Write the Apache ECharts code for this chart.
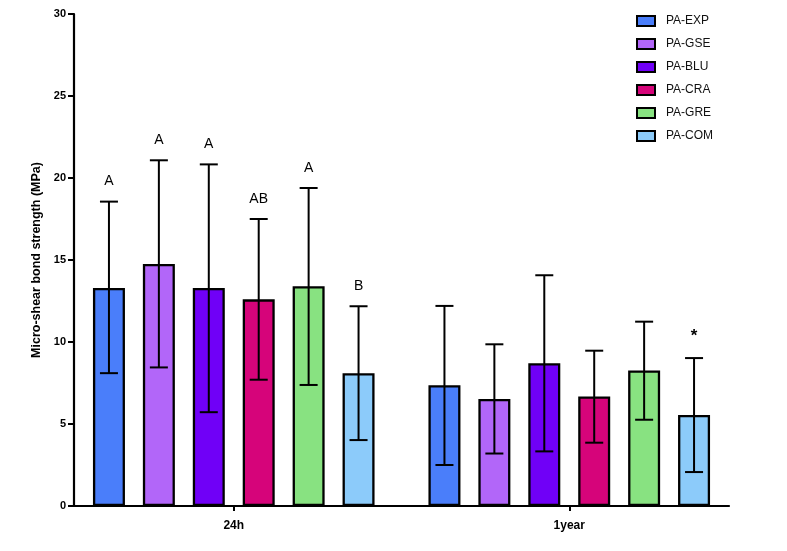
<!DOCTYPE html>
<html>
<head>
<meta charset="utf-8">
<script src="https://cdn.jsdelivr.net/npm/echarts@6/dist/echarts.min.js"></script>
<style>
  html, body { margin: 0; padding: 0; background: #fff; }
  #chart { width: 787px; height: 551px; }
</style>
</head>
<body>
<div id="chart"></div>
<script>
const categories = ['24h', '1year'];
const groups = ['PA-EXP', 'PA-GSE', 'PA-BLU', 'PA-CRA', 'PA-GRE', 'PA-COM'];
const colors = ['#4a7efa', '#b266f9', '#7000f7', '#d6047a', '#88e281', '#8ccbfa'];

// means and error bar ends (mean - SD, mean + SD)
const mean24h = [13.3, 14.76, 13.3, 12.6, 13.4, 8.1];
const low24h = [8.1, 8.45, 5.72, 7.7, 7.38, 4.02];
const high24h = [18.56, 21.08, 20.83, 17.5, 19.39, 12.18];
const mean1y = [7.36, 6.52, 8.7, 6.68, 8.26, 5.55];
const low1y = [2.5, 3.2, 3.33, 3.86, 5.26, 2.07];
const high1y = [12.2, 9.86, 14.07, 9.47, 11.24, 9.02];
const letters24h = ['A', 'A', 'A', 'AB', 'A', 'B'];
const letters1y = ['', '', '', '', '', '*'];

const FONT = '"Liberation Sans", Arial, Helvetica, sans-serif';
const BAR_W = 32;
const BAR_GAP = 0.56;
const STEP = BAR_W * (1 + BAR_GAP);
const CAP = 9;

const chartDom = document.getElementById('chart');
const myChart = echarts.init(chartDom);

// one custom item per bar: [category, member, low, high, letter]
const errData = [];
groups.forEach((g, i) => {
    errData.push([0, i, low24h[i], high24h[i], letters24h[i]]);
    errData.push([1, i, low1y[i], high1y[i], letters1y[i]]);
});

const barSeries = groups.map((g, i) => ({
    name: g,
    type: 'bar',
    xAxisIndex: 1,
    yAxisIndex: 1,
    barWidth: BAR_W,
    barGap: (BAR_GAP * 100) + '%',
    itemStyle: {
        color: colors[i],
        borderColor: '#000',
        borderWidth: 2.3
    },
    data: [mean24h[i], mean1y[i]]
}));

myChart.setOption({
    animation: false,
    textStyle: { fontFamily: FONT },
    legend: {
        data: groups.map(g => ({ name: g, icon: 'rect' })),
        orient: 'vertical',
        left: 631,
        top: 10,
        itemWidth: 18,
        itemHeight: 10,
        itemGap: 11,
        itemStyle: { borderColor: '#000', borderWidth: 2 },
        textStyle: { fontSize: 12, color: '#111', fontFamily: FONT, padding: [0, 0, 0, 6] }
    },
    grid: [
        { left: 74, right: 58, top: 14, bottom: 45 },
        { left: 66, right: 50, top: 14, bottom: 45 }
    ],
    xAxis: [{
        gridIndex: 0,
        type: 'category',
        data: categories,
        axisLine: { lineStyle: { color: '#000', width: 2.2 } },
        axisTick: { show: false },
        axisLabel: { show: false }
    }, {
        gridIndex: 1,
        type: 'category',
        data: categories,
        axisLine: { show: false },
        axisTick: { show: true, alignWithLabel: true, length: 5, lineStyle: { color: '#000', width: 2 } },
        axisLabel: { margin: 14, fontSize: 12, fontWeight: 'bold', color: '#000', fontFamily: FONT }
    }],
    yAxis: [{
        gridIndex: 0,
        type: 'value',
        min: 0,
        max: 30,
        interval: 5,
        name: 'Micro-shear bond strength (MPa)',
        nameLocation: 'middle',
        nameGap: 30,
        nameTextStyle: { fontSize: 12.5, fontWeight: 'bold', color: '#000', fontFamily: FONT },
        axisLine: { show: true, lineStyle: { color: '#000', width: 2.2 } },
        axisTick: { show: true, length: 6, lineStyle: { color: '#000', width: 2 } },
        axisLabel: { margin: 8, fontSize: 11, fontWeight: 'bold', color: '#000', fontFamily: FONT },
        splitLine: { show: false }
    }, {
        gridIndex: 1,
        type: 'value',
        min: 0,
        max: 30,
        show: false
    }],
    series: barSeries.concat([{
        type: 'custom',
        xAxisIndex: 1,
        yAxisIndex: 1,
        z: 10,
        silent: true,
        data: errData,
        renderItem: function (params, api) {
            const base = api.coord([api.value(0), 0]);
            const x = base[0] + (api.value(1) - 2.5) * STEP;
            const yLow = api.coord([api.value(0), api.value(2)])[1];
            const yHigh = api.coord([api.value(0), api.value(3)])[1];
            const style = { stroke: '#000', lineWidth: 2 };
            const children = [
                { type: 'line', shape: { x1: x, y1: yLow, x2: x, y2: yHigh }, style: style },
                { type: 'line', shape: { x1: x - CAP, y1: yLow, x2: x + CAP, y2: yLow }, style: style },
                { type: 'line', shape: { x1: x - CAP, y1: yHigh, x2: x + CAP, y2: yHigh }, style: style }
            ];
            const letter = errData[params.dataIndex][4];
            if (letter) {
                const star = letter === '*';
                children.push({
                    type: 'text',
                    style: {
                        x: x,
                        y: yHigh - (star ? 22 : 20),
                        text: letter,
                        align: 'center',
                        verticalAlign: 'middle',
                        fontSize: star ? 17 : 14,
                        fontWeight: star ? 'bold' : 'normal',
                        fontFamily: FONT,
                        fill: '#000'
                    }
                });
            }
            return { type: 'group', children: children };
        }
    }])
});

window.onresize = function () {
    myChart.resize();
};
</script>
</body>
</html>
